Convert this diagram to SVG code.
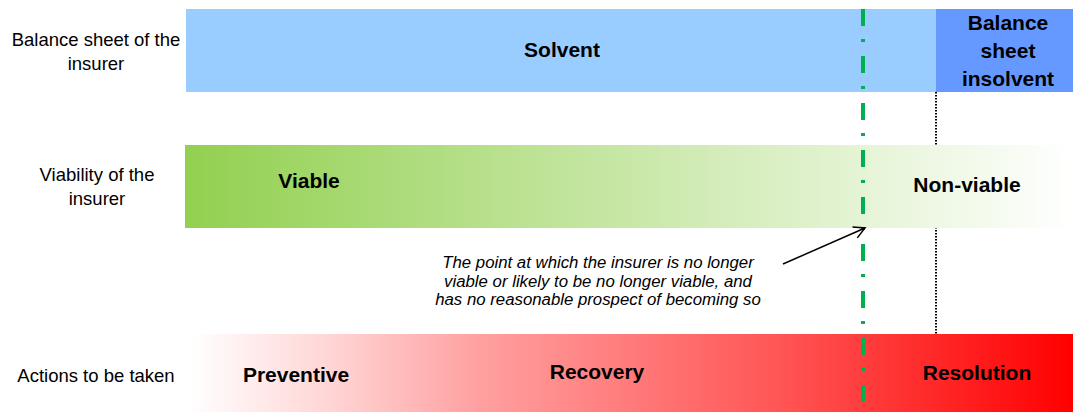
<svg xmlns="http://www.w3.org/2000/svg" width="1073" height="412" viewBox="0 0 1073 412">
  <style>
    .lbl { font-family: "Liberation Sans", Arial, sans-serif; font-size: 18.5px; fill: #000; text-anchor: middle; }
    .bold { font-family: "Liberation Sans", Arial, sans-serif; font-size: 21px; font-weight: bold; fill: #000; text-anchor: middle; }
    .note { font-family: "Liberation Sans", Arial, sans-serif; font-size: 16.8px; font-style: italic; fill: #000; text-anchor: middle; }
  </style>
  <defs>
    <linearGradient id="gGreen" gradientUnits="userSpaceOnUse" x1="185" y1="0" x2="1073" y2="0">
      <stop offset="0" stop-color="#92D050"/>
      <stop offset="1" stop-color="#FFFFFF"/>
    </linearGradient>
    <linearGradient id="gRed" gradientUnits="userSpaceOnUse" x1="185" y1="0" x2="1073" y2="0">
      <stop offset="0.006" stop-color="#FFFFFF"/>
      <stop offset="0.163" stop-color="#FFD5D5"/>
      <stop offset="0.332" stop-color="#FFA0A0"/>
      <stop offset="0.67" stop-color="#FF5555"/>
      <stop offset="1" stop-color="#FF0000"/>
    </linearGradient>
    <marker id="openArrow" markerWidth="14" markerHeight="14" refX="12" refY="7" orient="auto" markerUnits="userSpaceOnUse">
      <path d="M1,1 L12,7 L1,13" fill="none" stroke="#000" stroke-width="1.5"/>
    </marker>
  </defs>

  <g id="row-labels">
    <text class="lbl" x="96" y="46">Balance sheet of the</text>
    <text class="lbl" x="96" y="70">insurer</text>
    <text class="lbl" x="97" y="181">Viability of the</text>
    <text class="lbl" x="97" y="205">insurer</text>
    <text class="lbl" x="96" y="382">Actions to be taken</text>
  </g>

  <g id="connectors">
    <line x1="936" y1="92" x2="936" y2="334" stroke="#FFFFFF" stroke-width="2.5"/>
    <line x1="936" y1="92" x2="936" y2="334" stroke="#000" stroke-width="2" stroke-dasharray="1.5 1.5"/>
  </g>

  <g id="node-solvent">
    <rect x="186" y="9" width="750" height="83" fill="#99CCFF"/>
    <text class="bold" x="562" y="57">Solvent</text>
  </g>
  <g id="node-insolvent">
    <rect x="936" y="9" width="137" height="83" fill="#6699FF"/>
    <text class="bold" x="1008" y="30">Balance</text>
    <text class="bold" x="1008" y="58">sheet</text>
    <text class="bold" x="1008" y="86">insolvent</text>
  </g>

  <g id="node-viability">
    <rect x="185" y="145" width="888" height="83" fill="url(#gGreen)"/>
    <text class="bold" x="309" y="188">Viable</text>
    <text class="bold" x="967" y="192">Non-viable</text>
  </g>

  <g id="node-actions">
    <rect x="185" y="334" width="888" height="78" fill="url(#gRed)"/>
    <text class="bold" x="296" y="382">Preventive</text>
    <text class="bold" x="597" y="379">Recovery</text>
    <text class="bold" x="977" y="380">Resolution</text>
  </g>

  <g id="node-note">
    <text class="note" x="598" y="268">The point at which the insurer is no longer</text>
    <text class="note" x="598" y="287">viable or likely to be no longer viable, and</text>
    <text class="note" x="598" y="305">has no reasonable prospect of becoming so</text>
  </g>

  <g id="connectors-front">
    <line x1="863" y1="9" x2="863" y2="412" stroke="#00B050" stroke-width="4" stroke-dasharray="17 13 3 14"/>
    <line x1="783" y1="264" x2="865" y2="228" stroke="#000" stroke-width="1.5" marker-end="url(#openArrow)"/>
  </g>
</svg>
